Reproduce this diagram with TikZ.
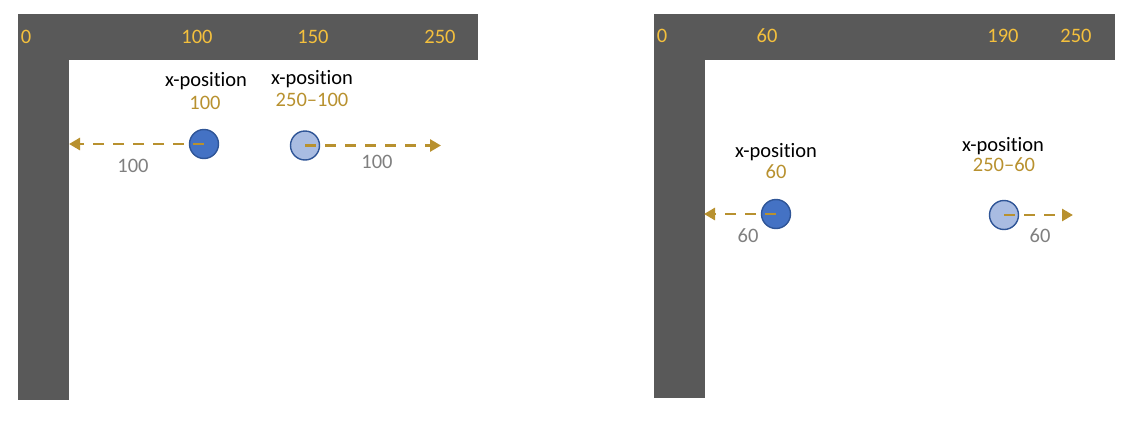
\documentclass[tikz,border=0pt]{standalone}
\usepackage{fontspec}
\setmainfont{Carlito}[Ligatures=NoCommon]
\usetikzlibrary{arrows.meta}
\definecolor{barc}{HTML}{595959}
\definecolor{topnum}{HTML}{F4C03D}
\definecolor{goldc}{HTML}{B8912F}
\definecolor{grayc}{HTML}{7F7F7F}
\definecolor{darkball}{HTML}{4472C4}
\definecolor{lightball}{HTML}{A9BCE2}
\definecolor{ballline}{HTML}{2F5597}
\tikzset{
  bar/.style={fill=barc, draw=none},
  txt/.style={inner sep=0pt, font=\fontsize{20.5}{23}\selectfont},
  topn/.style={txt, text=topnum},
  xlab/.style={txt, text=black},
  gnum/.style={txt, text=goldc},
  dnum/.style={txt, text=grayc},
  ball/.style={circle, minimum size=29pt, inner sep=0pt, draw=ballline, line width=1.4pt},
  darkb/.style={ball, fill=darkball},
  lightb/.style={ball, fill=lightball},
  distarrow/.style={draw=goldc, line width=2.8pt, dash pattern=on 11pt off 9pt, -{Triangle[length=11pt,width=12pt]}}
}
\begin{document}
\begin{tikzpicture}[x=1pt,y=-1pt]
\useasboundingbox (0,0) rectangle (1128,426);
% left panel
\fill[bar] (18,14) rectangle (478,60);
\fill[bar] (18,14) rectangle (69,400);
\node[topn] (l0) at (26,37) {0};
\node[topn] (l100) at (197,37) {100};
\node[topn] (l150) at (313,37) {150};
\node[topn] (l250) at (440,37) {250};
\node[xlab] (lx1) at (206,81) {x-position};
\node[gnum] (lv1) at (205,103) {100};
\node[xlab] (lx2) at (312,79) {x-position};
\node[gnum] (lv2) at (312,100) {250--100};
\node[darkb] (lb1) at (204,144) {};
\node[lightb] (lb2) at (305,145.5) {};
\coordinate (lt1) at (69,144);
\coordinate (lt2) at (441,145.5);
\draw[distarrow] (lb1.center) -- (lt1);
\draw[distarrow] (lb2.center) -- (lt2);
\node[dnum] (ld1) at (133,166) {100};
\node[dnum] (ld2) at (377,162) {100};
% right panel
\fill[bar] (654,14) rectangle (1115,60);
\fill[bar] (654,14) rectangle (705,398);
\node[topn] (r0) at (662,36) {0};
\node[topn] (r60) at (767,36) {60};
\node[topn] (r190) at (1003,36) {190};
\node[topn] (r250) at (1076,36) {250};
\node[xlab] (rx1) at (776,152) {x-position};
\node[gnum] (rv1) at (776,172) {60};
\node[xlab] (rx2) at (1003,146) {x-position};
\node[gnum] (rv2) at (1004,165) {250--60};
\node[darkb] (rb1) at (776,214) {};
\node[lightb] (rb2) at (1004,215) {};
\coordinate (rt1) at (704,214);
\coordinate (rt2) at (1073,215);
\draw[distarrow] (rb1.center) -- (rt1);
\draw[distarrow] (rb2.center) -- (rt2);
\node[dnum] (rd1) at (748,236) {60};
\node[dnum] (rd2) at (1040,236) {60};
\end{tikzpicture}
\end{document}
